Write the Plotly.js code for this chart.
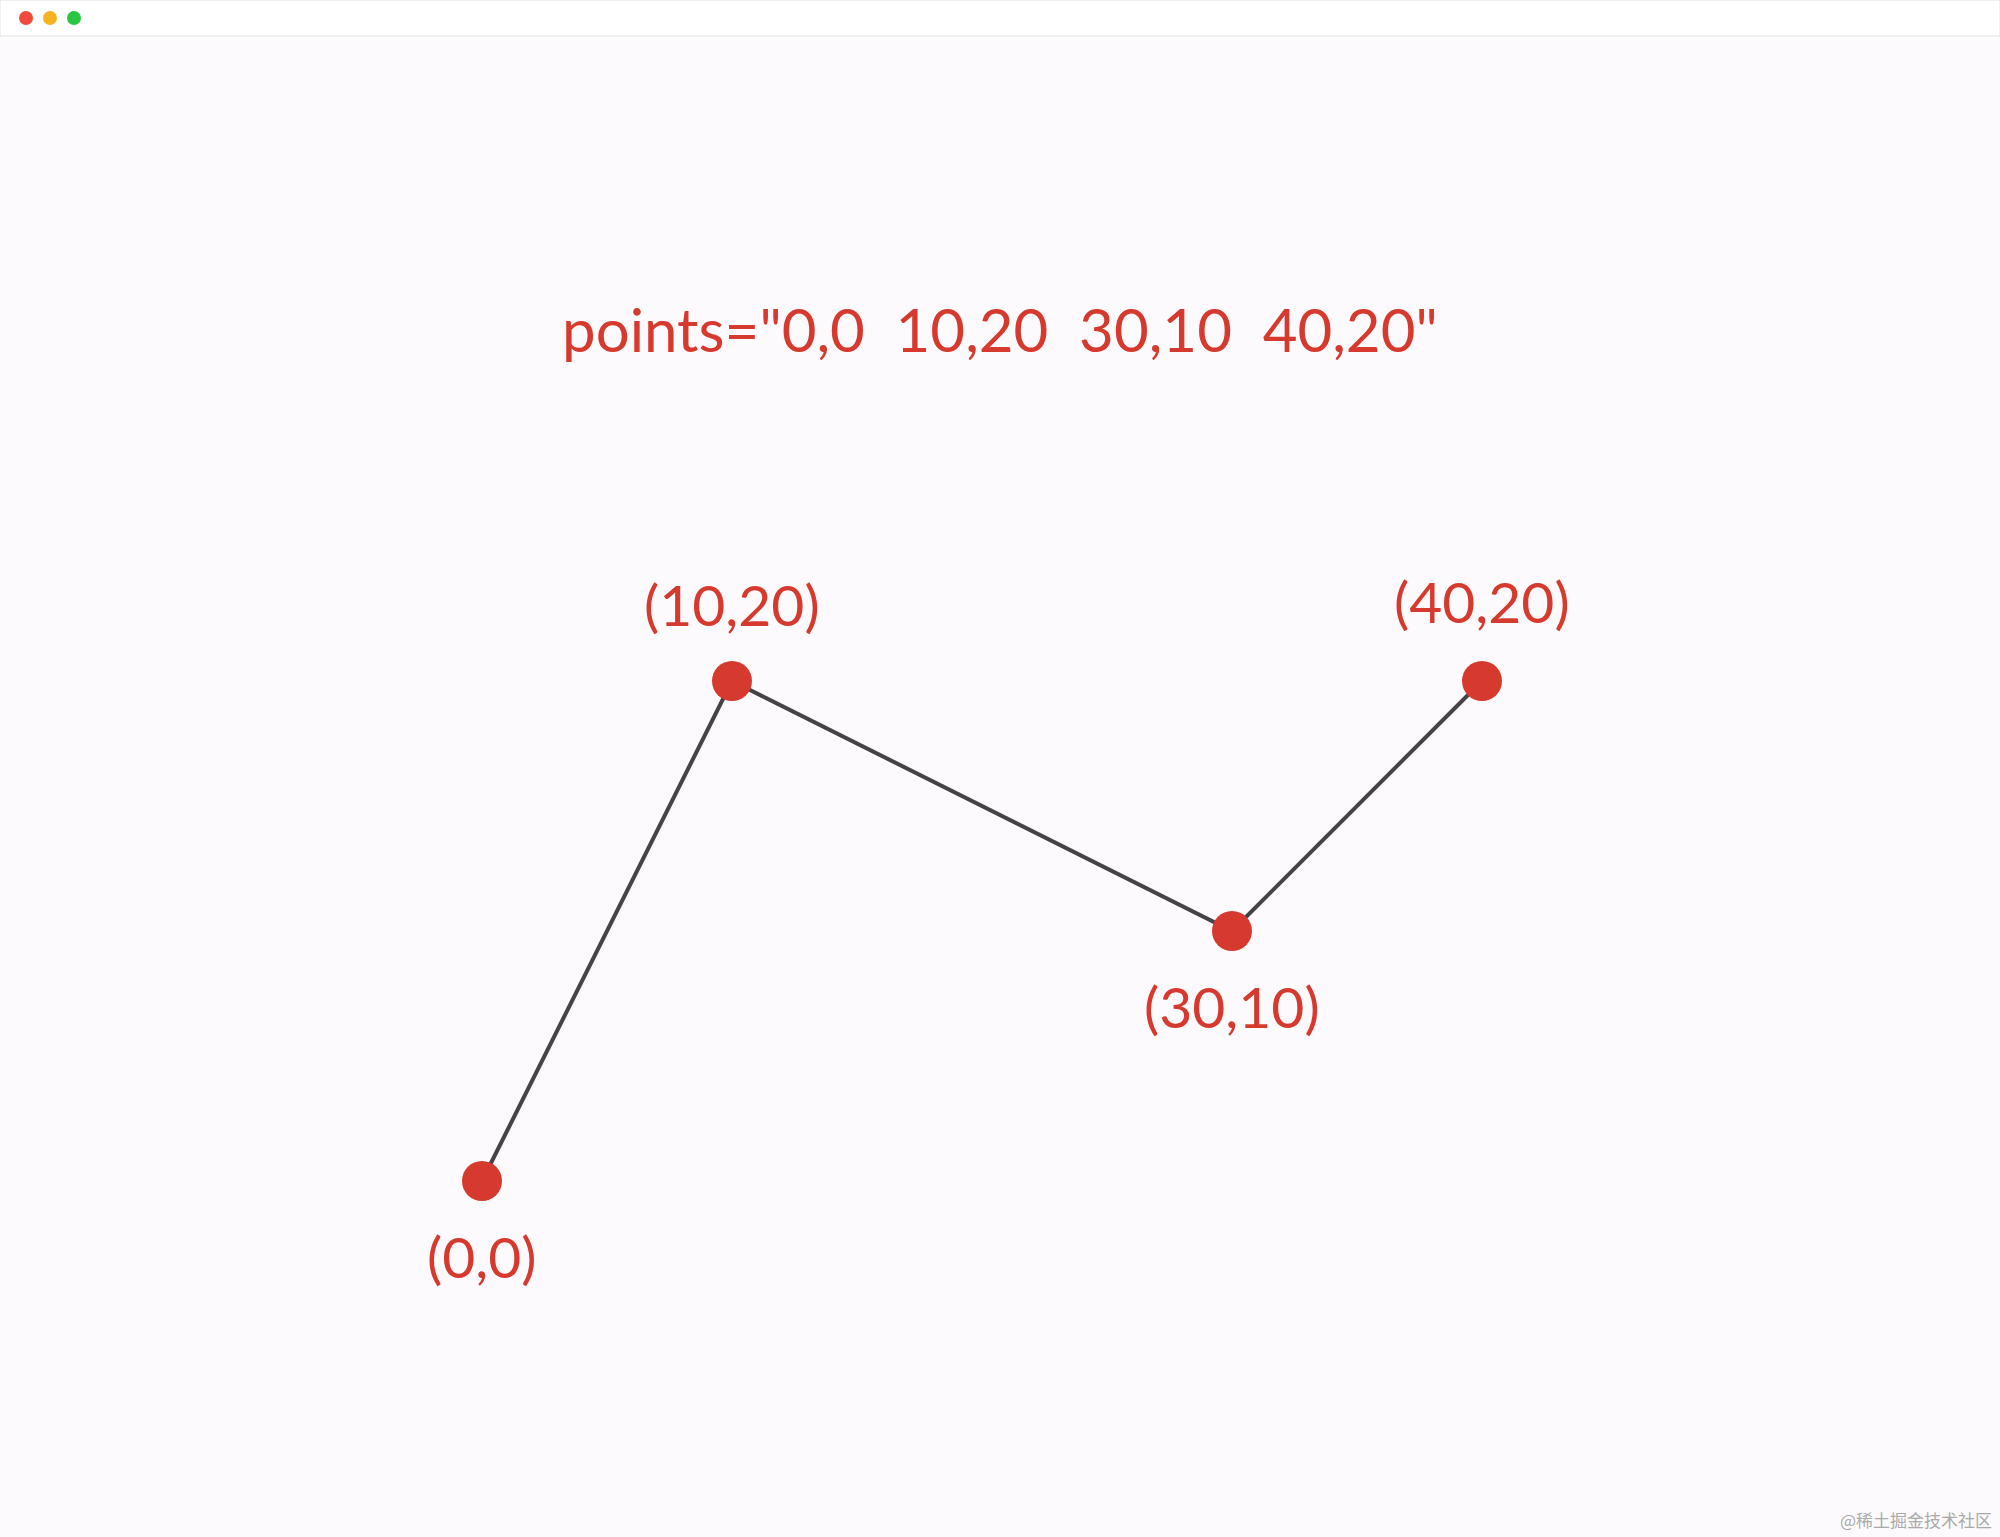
<!DOCTYPE html>
<html>
<head>
<meta charset="utf-8">
<script src="https://cdn.plot.ly/plotly-3.0.1.min.js"></script>
<style>html,body{margin:0;padding:0;background:#fcfafc;}</style>
</head>
<body>
<div id="chart" style="width:2000px;height:1537px;"></div>
<script>
// polyline points
const xs = [0, 10, 30, 40];
const ys = [0, 20, 10, 20];
const labels = ['(0,0)', '(10,20)', '(30,10)', '(40,20)'];
const labelOffsets = [-3.0, 3.1, -3.0, 3.2];
const caption = 'points="0,0&nbsp;&nbsp;10,20&nbsp;&nbsp;30,10&nbsp;&nbsp;40,20"';

const red = '#d63a2e';
const font = 'Lato, "Open Sans", sans-serif';

const trace = {
  x: xs, y: ys, type: 'scatter', mode: 'lines+markers',
  line: { color: '#454345', width: 4 },
  marker: { color: red, size: 40 },
  hoverinfo: 'none'
};

const annotations = xs.map((x, i) => ({
  x: x, y: ys[i] + labelOffsets[i], text: labels[i], showarrow: false,
  font: { family: font, size: 57, color: red }
}));
annotations.push({
  xref: 'paper', yref: 'paper', x: 0.5, y: 1 - 291 / 1537, text: caption,
  showarrow: false, font: { family: font, size: 60, color: red }
});
annotations.push({
  xref: 'paper', yref: 'paper', x: 0.997, y: 0.002, xanchor: 'right', yanchor: 'bottom',
  text: '@稀土掘金技术社区', showarrow: false,
  font: { family: '"Noto Sans CJK SC", sans-serif', size: 17, color: '#aaaaaa' }
});

const dotColors = ['#ee4b3e', '#f5b324', '#29c73f'];
const shapes = [
  { type: 'rect', xref: 'paper', yref: 'paper', x0: 0, x1: 1, y0: 1 - 36 / 1537, y1: 1,
    fillcolor: '#ffffff', line: { color: '#ececec', width: 1.5 }, layer: 'below' }
];
dotColors.forEach((c, i) => {
  const cx = 26 + i * 24, cy = 18;
  shapes.push({ type: 'circle', xref: 'paper', yref: 'paper',
    x0: (cx - 7) / 2000, x1: (cx + 7) / 2000, y0: 1 - (cy + 7) / 1537, y1: 1 - (cy - 7) / 1537,
    fillcolor: c, line: { width: 0 } });
});

const layout = {
  width: 2000, height: 1537,
  margin: { l: 0, r: 0, t: 0, b: 0 },
  paper_bgcolor: '#fcfafc', plot_bgcolor: '#fcfafc',
  xaxis: { range: [-482 / 25, (2000 - 482) / 25], visible: false, fixedrange: true },
  yaxis: { range: [-(1537 - 1181) / 25, 1181 / 25], visible: false, fixedrange: true },
  showlegend: false,
  annotations: annotations,
  shapes: shapes
};

Plotly.newPlot('chart', [trace], layout, { displayModeBar: false, staticPlot: true });
</script>
</body>
</html>
